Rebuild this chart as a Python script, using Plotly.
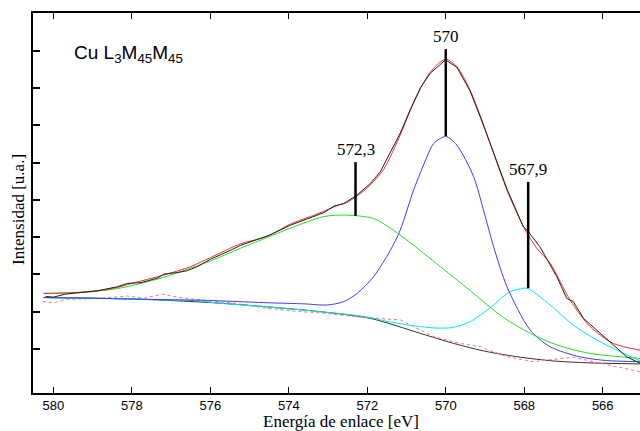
import plotly.graph_objects as go

# Cu L3M45M45 Auger spectrum: measured data, fit envelope, three components,
# background and residual.  Energies in eV, intensities in arbitrary units.

energy_data = [580.2, 580.0, 579.7, 579.38, 578.88, 578.37, 578.11, 577.77, 577.35,
               577.18, 576.84, 576.59, 576.33, 575.99, 575.74, 575.48, 575.23, 574.89,
               574.5, 573.96, 573.45, 573.1, 572.85, 572.6, 572.26, 571.92, 571.67,
               571.16, 570.9, 570.64, 570.39, 570.01, 569.72, 569.38, 569.08, 568.78,
               568.44, 568.02, 567.93, 567.6, 567.17, 566.92, 566.75, 566.49, 566.15,
               565.73, 565.39, 565.05]
intensity_data = [141, 139, 147, 151, 156, 167, 176, 178, 190,
                  201, 205, 210, 221, 241, 252, 265, 278, 290,
                  305, 332, 353, 366, 383, 390, 413, 444, 475,
                  579, 643, 702, 740, 775, 756, 692, 611, 528,
                  429, 327, 319, 274, 194, 136, 127, 82, 51,
                  11, -21, -38]

energy_fit = [580.25, 579.5, 579.0, 578.5, 578.0, 577.2, 576.5, 576.0, 575.23, 574.55,
              573.96, 573.3, 572.68, 572.53, 572.0, 571.84, 571.58, 571.16, 570.9,
              570.64, 570.39, 570.01, 569.72, 569.38, 569.08, 568.78, 568.44, 568.02,
              567.68, 567.34, 566.83, 566.32, 565.73, 565.05]
intensity_fit = [149, 151, 155, 162, 176, 198, 221, 245, 282, 302,
                 335, 361, 388, 392, 432, 449, 482, 574, 641,
                 699, 743, 777, 757, 694, 614, 525, 426, 328,
                 270, 230, 131, 60, 15, -3]

energy_c1 = [580.25, 579.5, 579.0, 578.5, 578.0, 577.2, 576.5, 576.0, 575.23, 574.55,
             573.96, 573.11, 572.53, 571.84, 571.41, 570.99, 570.14, 569.29, 568.87,
             568.44, 567.77, 567.17, 566.32, 565.05]
intensity_c1 = [149, 151, 154, 160, 170, 192, 217, 236, 270, 299,
                324, 355, 359, 350, 324, 292, 221, 149, 112,
                78, 38, 11, -12, -25]

energy_c2 = [580.25, 579.0, 578.0, 577.0, 576.25, 575.5, 574.55, 573.6, 573.02, 572.6,
             572.26, 571.84, 571.41, 571.16, 570.82, 570.48, 570.31, 570.0, 569.72,
             569.29, 569.04, 568.78, 568.44, 567.85, 567.34, 566.58, 565.9, 565.05]
intensity_c2 = [138, 136, 134, 132, 131, 128, 124, 121, 118, 127,
                149, 194, 265, 319, 426, 515, 551, 570, 547,
                462, 373, 274, 167, 51, 6, -21, -31, -34]

energy_c3 = [580.25, 579.0, 578.0, 577.0, 576.25, 575.9, 574.55, 573.2, 572.0, 571.5,
             571.0, 570.65, 570.2, 569.8, 569.38, 569.0, 568.78, 568.36, 568.1,
             567.93, 567.34, 566.75, 566.15, 565.56, 565.05]
intensity_c3 = [138, 136, 134, 131, 129, 124, 113, 100, 86, 74,
                65, 60, 56, 58, 73, 100, 118, 154, 161,
                163, 118, 64, 24, -7, -32]

energy_bg = [580.25, 577.94, 575.91, 574.55, 573.19, 571.92, 570.65, 569.8, 568.95,
             568.1, 567.26, 566.41, 565.05]
intensity_bg = [138, 134, 124, 113, 100, 82, 42, 15, -7,
                -22, -32, -37, -40]

energy_res = [580.27, 580.0, 579.66, 578.8, 578.11, 577.69, 577.22, 576.84, 576.07,
              575.4, 574.55, 573.7, 573.19, 572.35, 571.16, 570.31, 569.63, 569.12,
              568.44, 567.77, 567.26, 566.75, 566.24, 565.73, 565.05]
intensity_res = [127, 124, 133, 136, 142, 136, 147, 139, 129,
                 123, 109, 100, 97, 87, 78, 33, 15, 6,
                 -21, -34, -28, -22, -34, -46, -61]

# peak positions with marker spans (bottom on the component, top under the label)
peak_energy = [572.3, 570.0, 567.9]
peak_bottom = [357, 571, 163]
peak_top = [501, 804, 448]

x_ticks = [580, 578, 576, 574, 572, 570, 568, 566]
y_ticks = [0, 100, 200, 300, 400, 500, 600, 700, 800]

fig = go.Figure()


def curve(x, y, color, dash="solid", shape="spline", width=1):
    line = dict(color=color, width=width, dash=dash, shape=shape)
    if shape == "spline":
        line["smoothing"] = 0.8
    fig.add_trace(go.Scatter(x=x, y=y, mode="lines", line=line,
                             hoverinfo="skip", showlegend=False))


curve(energy_bg, intensity_bg, "#303030")
curve(energy_res, intensity_res, "#ff7070", dash="dot", shape="linear")
curve(energy_c3, intensity_c3, "#00e8e8")
curve(energy_c2, intensity_c2, "#3c3cff")
curve(energy_c1, intensity_c1, "#22e022")
curve(energy_fit, intensity_fit, "#ff2a2a")
curve(energy_data, intensity_data, "#202020", shape="linear")

for e, lo, hi in zip(peak_energy, peak_bottom, peak_top):
    fig.add_trace(go.Scatter(x=[e, e], y=[lo, hi], mode="lines",
                             line=dict(color="black", width=2.5),
                             hoverinfo="skip", showlegend=False))
    fig.add_annotation(x=e, y=hi, text=f"{e:g}".replace(".", ","), showarrow=False,
                       xanchor="center", yanchor="bottom", yshift=1,
                       font=dict(family="Liberation Serif", size=17, color="black"))

fig.add_annotation(xref="paper", yref="paper", x=0.064, y=0.893,
                   text="Cu L<sub>3</sub>M<sub>45</sub>M<sub>45</sub>", showarrow=False,
                   xanchor="left", yanchor="middle",
                   font=dict(family="Liberation Sans", size=19, color="black"))

fig.add_annotation(xref="paper", yref="paper", x=0.507, y=-0.075,
                   text="Energía de enlace [eV]", showarrow=False,
                   xanchor="center", yanchor="middle",
                   font=dict(family="Liberation Serif", size=17, color="black"))
fig.add_annotation(xref="paper", yref="paper", x=-0.023, y=0.482,
                   text="Intensidad [u.a.]", showarrow=False, textangle=-90,
                   xanchor="center", yanchor="middle",
                   font=dict(family="Liberation Serif", size=17, color="black"))

fig.update_layout(
    width=640, height=431,
    margin=dict(l=33, r=0, t=13, b=38),
    paper_bgcolor="white", plot_bgcolor="white",
    xaxis=dict(range=[580.52, 565.05], tickvals=x_ticks, ticks="inside", ticklen=6,
               tickwidth=1, tickcolor="black", showline=True, linecolor="black",
               linewidth=1.5, mirror="ticks", showgrid=False, zeroline=False,
               tickfont=dict(family="Liberation Sans", size=13, color="black")),
    yaxis=dict(range=[-118, 901], tickvals=y_ticks, ticks="inside", ticklen=7,
               tickwidth=1.5, tickcolor="black", showticklabels=False, showline=True,
               linecolor="black", linewidth=1.5, showgrid=False, zeroline=False),
)

fig.write_html("out.html")
